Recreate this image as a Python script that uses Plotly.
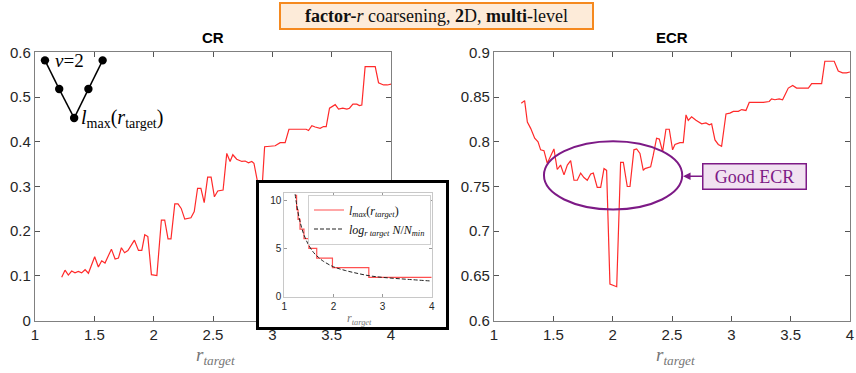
import plotly.graph_objects as go

# ---------------- data ----------------
cr_r = [1.225, 1.253, 1.281, 1.309, 1.337, 1.365, 1.393, 1.422, 1.45, 1.503, 1.534, 1.562, 1.59,
        1.644, 1.675, 1.703, 1.728, 1.755, 1.783, 1.838, 1.872, 1.9, 1.925, 1.951, 1.981, 2.027,
        2.065, 2.093, 2.121, 2.146, 2.178, 2.205, 2.232, 2.262, 2.314, 2.342, 2.37, 2.398, 2.426,
        2.455, 2.484, 2.512, 2.54, 2.585, 2.616, 2.644, 2.667, 2.70, 2.743, 2.771, 2.799, 2.827,
        2.845, 2.87, 2.89, 2.912, 2.935, 2.981, 3.024, 3.066, 3.108, 3.14, 3.18, 3.236, 3.285,
        3.305, 3.333, 3.361, 3.403, 3.431, 3.454, 3.482, 3.51, 3.53, 3.558, 3.594, 3.628, 3.65,
        3.679, 3.712, 3.734, 3.754, 3.782, 3.825, 3.867, 3.895, 3.937, 3.97, 4.0]
cr_val = [0.097, 0.113, 0.102, 0.111, 0.107, 0.110, 0.107, 0.114, 0.106, 0.143, 0.120, 0.134, 0.129,
          0.160, 0.138, 0.140, 0.163, 0.152, 0.157, 0.180, 0.157, 0.157, 0.192, 0.188, 0.103, 0.101,
          0.225, 0.225, 0.183, 0.183, 0.261, 0.261, 0.251, 0.227, 0.230, 0.244, 0.296, 0.296, 0.264,
          0.321, 0.321, 0.277, 0.290, 0.292, 0.374, 0.356, 0.371, 0.361, 0.356, 0.357, 0.353, 0.356,
          0.352, 0.312, 0.290, 0.290, 0.389, 0.390, 0.391, 0.398, 0.398, 0.428, 0.428, 0.428, 0.428,
          0.425, 0.436, 0.433, 0.430, 0.434, 0.434, 0.475, 0.479, 0.483, 0.473, 0.475, 0.473, 0.475,
          0.484, 0.484, 0.481, 0.482, 0.568, 0.568, 0.568, 0.532, 0.527, 0.527, 0.529]

ecr_r = [1.23, 1.258, 1.281, 1.309, 1.343, 1.371, 1.393, 1.421, 1.449, 1.477, 1.505, 1.533, 1.561,
         1.59, 1.618, 1.646, 1.674, 1.702, 1.73, 1.758, 1.786, 1.815, 1.837, 1.87, 1.899, 1.927,
         1.949, 1.977, 2.011, 2.034, 2.067, 2.09, 2.123, 2.146, 2.179, 2.202, 2.23, 2.258, 2.272,
         2.32, 2.342, 2.37, 2.393, 2.421, 2.449, 2.477, 2.505, 2.525, 2.567, 2.595, 2.618, 2.637,
         2.665, 2.702, 2.75, 2.786, 2.814, 2.834, 2.862, 2.89, 2.918, 2.955, 2.988, 3.017, 3.059,
         3.087, 3.123, 3.151, 3.213, 3.27, 3.319, 3.339, 3.367, 3.403, 3.432, 3.46, 3.48, 3.517,
         3.55, 3.601, 3.649, 3.677, 3.719, 3.761, 3.788, 3.825, 3.867, 3.901, 3.937, 3.97, 4.0]
ecr_val = [0.843, 0.846, 0.822, 0.815, 0.804, 0.800, 0.791, 0.790, 0.776, 0.785, 0.792, 0.769, 0.774,
           0.763, 0.774, 0.779, 0.757, 0.757, 0.765, 0.760, 0.757, 0.764, 0.765, 0.749, 0.749, 0.770,
           0.768, 0.641, 0.639, 0.638, 0.777, 0.777, 0.750, 0.750, 0.791, 0.792, 0.787, 0.768, 0.770,
           0.772, 0.785, 0.804, 0.803, 0.789, 0.814, 0.814, 0.791, 0.797, 0.799, 0.799, 0.830, 0.824,
           0.828, 0.824, 0.820, 0.821, 0.819, 0.820, 0.802, 0.797, 0.795, 0.831, 0.832, 0.834, 0.834,
           0.836, 0.835, 0.844, 0.844, 0.844, 0.845, 0.848, 0.847, 0.848, 0.847, 0.854, 0.860, 0.863,
           0.860, 0.860, 0.860, 0.865, 0.865, 0.865, 0.890, 0.890, 0.890, 0.879, 0.877, 0.877, 0.878]

lmax_r = [1.22, 1.25, 1.28, 1.32, 1.40, 1.50, 1.66, 1.98, 2.72, 4.0]
lmax_val = [10.5, 9, 8, 7, 6, 5, 4, 3, 2, 2]

logc_r = [1.22, 1.25, 1.3, 1.35, 1.4, 1.5, 1.6, 1.7, 1.8, 2.0, 2.25, 2.5, 2.75, 3.0, 3.5, 4.0]
logc_val = [10.6, 9.6, 8.2, 7.2, 6.4, 5.3, 4.55, 4.05, 3.65, 3.1, 2.7, 2.4, 2.15, 2.0, 1.8, 1.62]

x_ticks_main = [1, 1.5, 2, 2.5, 3, 3.5, 4]
cr_ticks = [0, 0.1, 0.2, 0.3, 0.4, 0.5, 0.6]
ecr_ticks = [0.6, 0.65, 0.7, 0.75, 0.8, 0.85, 0.9]
inset_xticks = [1, 2, 3, 4]
inset_yticks = [0, 5, 10]

# ---------------- geometry ----------------
W, H = 856, 373
def px(x):
    return x / W
def py(y):
    return 1 - y / H

RED = "#ff2a2a"
PURPLE = "#7d1a86"
TICKFONT = dict(family="Liberation Sans, Arial", size=15, color="#262626")
SERIF = "Liberation Serif, DejaVu Serif, serif"

fig = go.Figure()
fig.add_trace(go.Scatter(x=cr_r, y=cr_val, mode="lines", line=dict(color=RED, width=1.2),
                         xaxis="x", yaxis="y", showlegend=False, hoverinfo="skip"))
fig.add_trace(go.Scatter(x=ecr_r, y=ecr_val, mode="lines", line=dict(color=RED, width=1.2),
                         xaxis="x2", yaxis="y2", showlegend=False, hoverinfo="skip"))
# frame subplot (white background covering left plot)
fig.add_trace(go.Scatter(x=[None], y=[None], mode="lines", xaxis="x3", yaxis="y3",
                         showlegend=False, hoverinfo="skip"))
# inset
fig.add_trace(go.Scatter(x=lmax_r, y=lmax_val, mode="lines", line=dict(color="#ff5050", width=1.2, shape="hv"),
                         xaxis="x4", yaxis="y4", name="<i>l<sub>max</sub></i>(<i>r<sub>target</sub></i>)",
                         hoverinfo="skip"))
fig.add_trace(go.Scatter(x=logc_r, y=logc_val, mode="lines",
                         line=dict(color="#222", width=1, dash="4px,2px", shape="spline"),
                         xaxis="x4", yaxis="y4", name="<i>log<sub>r target</sub></i> <i>N</i>/<i>N<sub>min</sub></i>",
                         hoverinfo="skip"))

main_axis = dict(showline=True, linecolor="#808080", linewidth=1.3, mirror="ticks", ticks="inside",
                 ticklen=5, tickcolor="#555555", showgrid=False, zeroline=False, tickfont=TICKFONT,
                 automargin=False)
frame_axis = dict(range=[0, 1], showline=True, mirror=True, linecolor="black", linewidth=2.6,
                  showticklabels=False, ticks="", showgrid=False, zeroline=False, fixedrange=True,
                  automargin=False)
inset_axis = dict(showline=True, mirror="ticks", linecolor="#c8c8c8", linewidth=1, ticks="inside",
                  ticklen=3, tickcolor="#999", showgrid=False, zeroline=False, automargin=False,
                  tickfont=dict(family="Liberation Sans, Arial", size=10, color="#262626"))

fig.update_layout(
    width=W, height=H, margin=dict(l=0, r=0, t=0, b=0, pad=0), autosize=False,
    plot_bgcolor="white", paper_bgcolor="white",
    xaxis=dict(domain=[px(35), px(391)], anchor="y", range=[1, 4], tickvals=x_ticks_main,
               ticktext=[str(v) for v in x_ticks_main], **main_axis),
    yaxis=dict(domain=[py(320.7), py(52.3)], anchor="x", range=[0, 0.6], tickvals=cr_ticks,
               ticktext=["0", "0.1", "0.2", "0.3", "0.4", "0.5", "0.6"], **main_axis),
    xaxis2=dict(domain=[px(494), px(850)], anchor="y2", range=[1, 4], tickvals=x_ticks_main,
                ticktext=[str(v) for v in x_ticks_main], **main_axis),
    yaxis2=dict(domain=[py(320.7), py(52.3)], anchor="x2", range=[0.6, 0.9], tickvals=ecr_ticks,
                ticktext=["0.6", "0.65", "0.7", "0.75", "0.8", "0.85", "0.9"], **main_axis),
    xaxis3=dict(domain=[px(258.5), px(445.5)], anchor="y3", **frame_axis),
    yaxis3=dict(domain=[py(326.5), py(183)], anchor="x3", **frame_axis),
    xaxis4=dict(domain=[px(284.3), px(431.7)], anchor="y4", range=[1, 4], tickvals=inset_xticks,
                **inset_axis),
    yaxis4=dict(domain=[py(296.7), py(193.3)], anchor="x4", range=[0, 10.7], tickvals=inset_yticks,
                **inset_axis),
    legend=dict(x=px(431), y=py(194.5), xanchor="right", yanchor="top", bgcolor="white",
                bordercolor="#cfcfcf", borderwidth=1, font=dict(family=SERIF, size=12, color="#111"),
                itemwidth=30, tracegroupgap=0),
)

C = dict(xanchor="center", yanchor="middle", showarrow=False)
annotations = [
    # main title box
    dict(text="<b>factor-</b><i>r</i> coarsening, <b>2</b>D, <b>multi</b>-level", x=px(436), y=py(16),
         xref="paper", yref="paper", font=dict(family=SERIF, size=18, color="#111"),
         bgcolor="#fdebd9", bordercolor="#f5891f", borderwidth=2, borderpad=1, width=309, height=22, **C),
    dict(text="<b>CR</b>", x=px(213), y=py(38), xref="paper", yref="paper",
         font=dict(family="Liberation Sans, Arial", size=15, color="black"), **C),
    dict(text="<b>ECR</b>", x=px(672), y=py(38), xref="paper", yref="paper",
         font=dict(family="Liberation Sans, Arial", size=15, color="black"), **C),
    dict(text="<i>r<sub>target</sub></i>", x=px(216), y=py(356), xref="paper", yref="paper",
         font=dict(family=SERIF, size=19, color="#777777"), **C),
    dict(text="<i>r<sub>target</sub></i>", x=px(675), y=py(356), xref="paper", yref="paper",
         font=dict(family=SERIF, size=19, color="#777777"), **C),
    dict(text="<i>r<sub>target</sub></i>", x=px(359), y=py(319), xref="paper", yref="paper",
         font=dict(family=SERIF, size=12, color="#777777"), **C),
    # V diagram texts
    dict(text="<i>ν</i>=2", x=0.098, y=0.968, xref="x domain", yref="y domain",
         font=dict(family=SERIF, size=19, color="black"), **C),
    dict(text="<i>l</i><sub>max</sub>(<i>r</i><sub>target</sub>)", x=0.124, y=0.753, xref="x domain",
         yref="y domain", xanchor="left", yanchor="middle", showarrow=False,
         font=dict(family=SERIF, size=20, color="black")),
    # Good ECR
    dict(text="Good ECR", x=2.593, y=0.7615, xref="x2", yref="y2", ax=71, ay=0, axref="pixel",
         ayref="pixel", showarrow=True, arrowhead=2, arrowsize=1, arrowwidth=1.5, arrowcolor=PURPLE,
         font=dict(family=SERIF, size=18, color=PURPLE), bgcolor="#f1e2f1", bordercolor=PURPLE,
         borderwidth=1.5, borderpad=1, width=100, height=22),
]
fig.update_layout(annotations=annotations)

# V diagram shapes (axis-domain coordinates)
vx = [0.028, 0.068, 0.110, 0.150, 0.190]
vy = [0.970, 0.863, 0.755, 0.863, 0.970]
shapes = []
for i in range(4):
    shapes.append(dict(type="line", xref="x domain", yref="y domain", x0=vx[i], y0=vy[i],
                       x1=vx[i + 1], y1=vy[i + 1], line=dict(color="black", width=1.5)))
rx, ry = 4.2 / 356, 4.2 / 268.4
for xx, yy in zip(vx, vy):
    shapes.append(dict(type="circle", xref="x domain", yref="y domain", x0=xx - rx, x1=xx + rx,
                       y0=yy - ry, y1=yy + ry, fillcolor="black", line=dict(color="black", width=0)))
# ellipse around good region
shapes.append(dict(type="circle", xref="x2", yref="y2", x0=1.421, x1=2.586, y0=0.7243, y1=0.8006,
                   line=dict(color=PURPLE, width=2)))
fig.update_layout(shapes=shapes)

fig.write_html("out.html")
